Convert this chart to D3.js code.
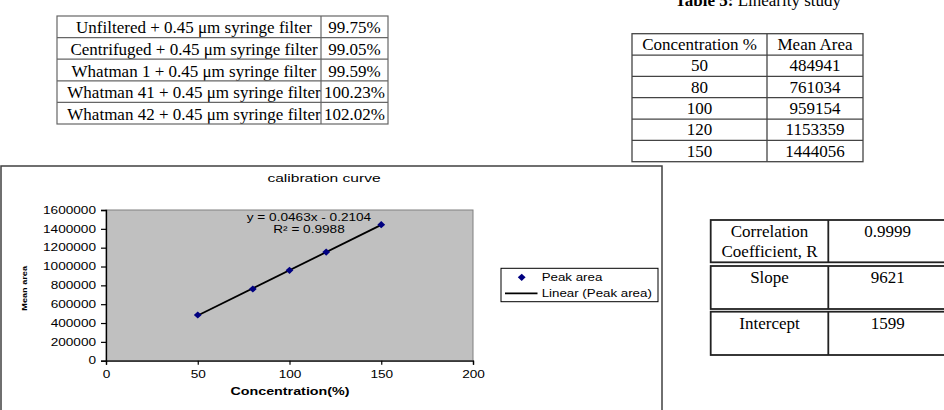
<!DOCTYPE html>
<html>
<head>
<meta charset="utf-8">
<script src="https://cdn.jsdelivr.net/npm/d3@7"></script>
<style>
  html, body { margin: 0; padding: 0; background: #fff; }
  svg { display: block; }
  .serif { font-family: "Liberation Serif", "Times New Roman", serif; font-size: 17px; fill: #000; }
  .sans { font-family: "Liberation Sans", Arial, sans-serif; fill: #000; }
</style>
</head>
<body>
<div id="chart"></div>
<script>
// --- data ---
const filterLabels = [
  "Unfiltered + 0.45 \u03bcm syringe filter",
  "Centrifuged + 0.45 \u03bcm syringe filter",
  "Whatman 1 + 0.45 \u03bcm syringe filter",
  "Whatman 41 + 0.45 \u03bcm syringe filter",
  "Whatman 42 + 0.45 \u03bcm syringe filter"
];
const filterRecoveries = ["99.75%", "99.05%", "99.59%", "100.23%", "102.02%"];

const linearityHeader = ["Concentration %", "Mean Area"];
const concentrations = [50, 80, 100, 120, 150];
const meanAreas = [484941, 761034, 959154, 1153359, 1444056];

const statLabels = [["Correlation", "Coefficient, R"], ["Slope"], ["Intercept"]];
const statValues = ["0.9999", "9621", "1599"];

const xTicks = [0, 50, 100, 150, 200];
const yTicks = [0, 200000, 400000, 600000, 800000, 1000000, 1200000, 1400000, 1600000];
const equationLines = ["y = 0.0463x - 0.2104", "R\u00b2 = 0.9988"];
const legendLabels = ["Peak area", "Linear (Peak area)"];

const width = 944, height = 410;

const svg = d3.select("#chart").append("svg")
  .attr("width", width)
  .attr("height", height);

// excel picture text looks horizontally stretched
function stretch(sel, k) {
  sel.each(function () {
    const w = this.getComputedTextLength();
    d3.select(this).attr("textLength", w * k).attr("lengthAdjust", "spacingAndGlyphs");
  });
}

// ---------- table 1 : filters ----------
{
  const left = 57, mid = 321, right = 388, top = 16, bottom = 124;
  const row = d3.scaleBand().domain(d3.range(filterLabels.length)).range([top, bottom]);
  const g = svg.append("g");
  const stroke = "#666";

  svg.append("clipPath").attr("id", "clip-t1")
    .append("rect").attr("x", left).attr("y", top).attr("width", mid - left).attr("height", bottom - top);

  g.append("g").attr("clip-path", "url(#clip-t1)")
    .selectAll("text").data(filterLabels).join("text")
    .attr("class", "serif")
    .attr("x", 194)
    .attr("y", (d, i) => row(i) + 17.3)
    .attr("text-anchor", "middle")
    .text(d => d);

  g.selectAll("text.val").data(filterRecoveries).join("text")
    .attr("class", "serif val")
    .attr("x", (mid + right) / 2)
    .attr("y", (d, i) => row(i) + 17.3)
    .attr("text-anchor", "middle")
    .text(d => d);

  g.selectAll("line.h").data(d3.range(1, filterLabels.length)).join("line")
    .attr("x1", left).attr("x2", right)
    .attr("y1", i => row(i)).attr("y2", i => row(i))
    .attr("stroke", stroke).attr("stroke-width", 1.2);
  g.append("line").attr("x1", mid).attr("x2", mid).attr("y1", top).attr("y2", bottom)
    .attr("stroke", stroke).attr("stroke-width", 1.2);
  g.append("rect").attr("x", left).attr("y", top).attr("width", right - left).attr("height", bottom - top)
    .attr("fill", "none").attr("stroke", stroke).attr("stroke-width", 1.2);
}

// ---------- table 5 : linearity ----------
{
  const title = svg.append("text").attr("class", "serif")
    .attr("x", 758).attr("y", 6).attr("text-anchor", "middle");
  title.append("tspan").attr("font-weight", "bold").text("Table 5:");
  title.append("tspan").text(" Linearity study");

  const left = 632, mid = 767, right = 863, top = 33.7, bottom = 161.7;
  const rows = [linearityHeader].concat(concentrations.map((c, i) => [String(c), String(meanAreas[i])]));
  const row = d3.scaleBand().domain(d3.range(rows.length)).range([top, bottom]);
  const g = svg.append("g");
  const stroke = "#444";

  rows.forEach((r, i) => {
    g.append("text").attr("class", "serif").attr("x", (left + mid) / 2).attr("y", row(i) + 16.3)
      .attr("text-anchor", "middle").text(r[0]);
    g.append("text").attr("class", "serif").attr("x", (mid + right) / 2).attr("y", row(i) + 16.3)
      .attr("text-anchor", "middle").text(r[1]);
  });

  g.selectAll("line.h").data(d3.range(1, rows.length)).join("line")
    .attr("x1", left).attr("x2", right)
    .attr("y1", i => row(i)).attr("y2", i => row(i))
    .attr("stroke", stroke).attr("stroke-width", 1.3);
  g.append("line").attr("x1", mid).attr("x2", mid).attr("y1", top).attr("y2", bottom)
    .attr("stroke", stroke).attr("stroke-width", 1.3);
  g.append("rect").attr("x", left).attr("y", top).attr("width", right - left).attr("height", bottom - top)
    .attr("fill", "none").attr("stroke", stroke).attr("stroke-width", 1.3);
}

// ---------- calibration chart ----------
{
  const chart = svg.append("g");
  chart.append("rect")
    .attr("x", 1).attr("y", 166).attr("width", 661).attr("height", 270)
    .attr("fill", "#fff").attr("stroke", "#404040").attr("stroke-width", 1.5);

  const x = d3.scaleLinear().domain([0, 200]).range([106, 473]);
  const y = d3.scaleLinear().domain([0, 1600000]).range([360.7, 210]);

  chart.append("rect")
    .attr("x", x(0)).attr("y", y(1600000))
    .attr("width", x(200) - x(0)).attr("height", y(0) - y(1600000))
    .attr("fill", "#c0c0c0").attr("stroke", "#808080").attr("stroke-width", 1);

  const yAxis = chart.append("g")
    .attr("transform", `translate(${x(0)},0)`)
    .call(d3.axisLeft(y).tickValues(yTicks).tickSize(5).tickPadding(5).tickFormat(d3.format("d")));
  const xAxis = chart.append("g")
    .attr("transform", `translate(0,${y(0)})`)
    .call(d3.axisBottom(x).tickValues(xTicks).tickSize(4).tickPadding(6));

  [xAxis, yAxis].forEach(ax => {
    ax.selectAll("path.domain").attr("stroke", "#000").attr("stroke-width", 1.3);
    ax.selectAll(".tick line").attr("stroke", "#000").attr("stroke-width", 1.2);
    ax.selectAll("text")
      .attr("class", "sans")
      .style("font-size", "10px")
      .attr("fill", "#000");
    stretch(ax.selectAll("text"), 1.36);
  });

  // trendline (least squares over data range)
  const mx = d3.mean(concentrations), my = d3.mean(meanAreas);
  const slope = d3.sum(concentrations, (c, i) => (c - mx) * (meanAreas[i] - my)) /
                d3.sum(concentrations, c => (c - mx) * (c - mx));
  const icpt = my - slope * mx;
  const xMin = d3.min(concentrations), xMax = d3.max(concentrations);
  chart.append("path")
    .datum([xMin, xMax])
    .attr("d", d3.line().x(d => x(d)).y(d => y(icpt + slope * d)))
    .attr("stroke", "#000").attr("stroke-width", 1.8).attr("fill", "none");

  const diamond = "M0,-3.6L3.9,0L0,3.6L-3.9,0Z";
  chart.selectAll("path.pt").data(concentrations).join("path")
    .attr("class", "pt")
    .attr("d", diamond)
    .attr("transform", (d, i) => `translate(${x(d)},${y(meanAreas[i])})`)
    .attr("fill", "#000080");

  // equation label
  const eq = chart.selectAll("text.eq").data(equationLines).join("text")
    .attr("class", "sans eq")
    .attr("x", 309)
    .attr("y", (d, i) => 221 + i * 12.3)
    .attr("text-anchor", "middle")
    .style("font-size", "10px")
    .text(d => d);
  stretch(eq, 1.36);

  const title = chart.append("text").attr("class", "sans")
    .attr("x", 324).attr("y", 181.7).attr("text-anchor", "middle")
    .style("font-size", "10.5px").text("calibration curve");
  stretch(title, 1.48);

  const xTitle = chart.append("text").attr("class", "sans")
    .attr("x", (x(0) + x(200)) / 2 + 0.5).attr("y", 395).attr("text-anchor", "middle")
    .style("font-size", "10px").style("font-weight", "bold").text("Concentration(%)");
  stretch(xTitle, 1.43);

  const yTitle = chart.append("text").attr("class", "sans")
    .attr("transform", `translate(27,${(y(0) + y(1600000)) / 2 + 3}) rotate(-90)`)
    .attr("text-anchor", "middle")
    .style("font-size", "7.5px").style("font-weight", "bold").text("Mean area");
  stretch(yTitle, 1.22);

  // legend
  const lg = chart.append("g");
  lg.append("rect").attr("x", 501).attr("y", 268.3).attr("width", 157).attr("height", 33.4)
    .attr("fill", "#fff").attr("stroke", "#000").attr("stroke-width", 1);
  lg.append("path").attr("d", diamond).attr("transform", "translate(521.7,277.3)").attr("fill", "#000080");
  lg.append("line").attr("x1", 505).attr("x2", 537.5).attr("y1", 293.3).attr("y2", 293.3)
    .attr("stroke", "#000").attr("stroke-width", 1.8);
  const lt = lg.selectAll("text").data(legendLabels).join("text")
    .attr("class", "sans")
    .attr("x", 541.7)
    .attr("y", (d, i) => 280.5 + i * 16.4)
    .style("font-size", "10px")
    .text(d => d);
  stretch(lt, 1.33);
}

// ---------- statistics boxes ----------
{
  const left = 710.7, mid = 828.3, right = 960;
  const boxes = [[220, 262.3], [266, 309], [311.7, 355]];
  const g = svg.append("g");
  boxes.forEach((b, i) => {
    g.append("rect").attr("x", left).attr("y", b[0]).attr("width", right - left).attr("height", b[1] - b[0])
      .attr("fill", "none").attr("stroke", "#222").attr("stroke-width", 1.8);
    g.append("line").attr("x1", mid).attr("x2", mid).attr("y1", b[0]).attr("y2", b[1])
      .attr("stroke", "#222").attr("stroke-width", 1.8);
    statLabels[i].forEach((t, j) => {
      g.append("text").attr("class", "serif")
        .attr("x", 769.5).attr("y", b[0] + 16.8 + j * 20)
        .attr("text-anchor", "middle").text(t);
    });
    g.append("text").attr("class", "serif")
      .attr("x", 887.7).attr("y", b[0] + 16.8)
      .attr("text-anchor", "middle").text(statValues[i]);
  });
}
</script>
</body>
</html>
